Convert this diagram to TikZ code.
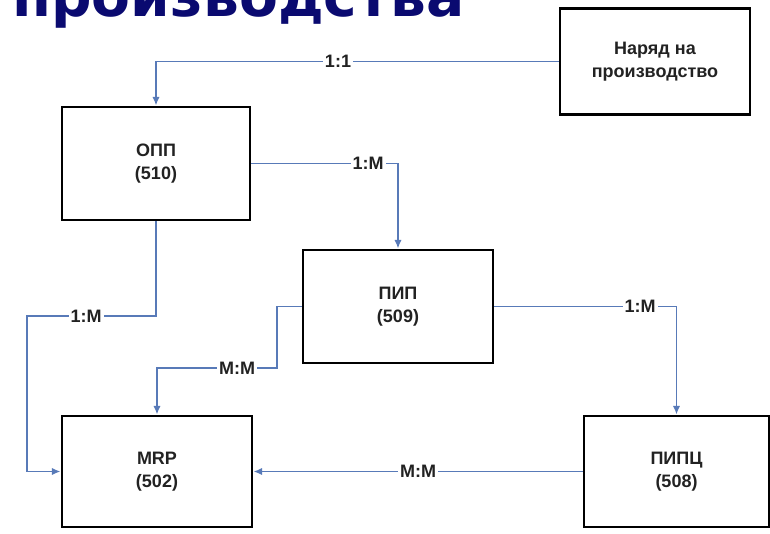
\documentclass[tikz,border=0pt]{standalone}
\usepackage{fontspec}
\setmainfont{Liberation Sans}
\newfontfamily\titlefont{DejaVu Sans}
\usetikzlibrary{arrows.meta}
\definecolor{navy}{RGB}{10,10,112}
\definecolor{connc}{RGB}{88,122,184}
\definecolor{txt}{RGB}{34,34,34}
\tikzset{
  box/.style={draw=black, line width=2.2pt, fill=white, inner sep=0pt, align=center,
    font=\fontsize{13.5}{17}\selectfont\bfseries, text=txt},
  conn/.style={draw=connc, line width=1.2pt, -{Latex[length=6.5pt,width=5.5pt]}},
  lbl/.style={fill=white, inner xsep=1.5pt, inner ysep=1pt, text=txt,
    font=\fontsize{13.5}{16}\selectfont\bfseries}
}
\begin{document}
\begin{tikzpicture}[x=0.75pt, y=-0.75pt]
\useasboundingbox (0,0) rectangle (770,534);
\clip (0,0) rectangle (770,534);
% title (cut off at top)
\node[anchor=base west, inner sep=0pt, text=navy] (title) at (12,17)
  {\resizebox{339pt}{!}{\titlefont\bfseries производства}};
% boxes
\node[box, minimum width=142.5pt, minimum height=80pt] (nar) at (655,61.5) {Наряд на\\производство};
\node[box, minimum width=141pt, minimum height=84.75pt] (opp) at (156,163.5) {ОПП\\(510)};
\node[box, minimum width=142.5pt, minimum height=84.75pt] (pip) at (398,306.5) {ПИП\\(509)};
\node[box, minimum width=142.5pt, minimum height=83.25pt] (mrp) at (157,471.5) {MRP\\(502)};
\node[box, minimum width=138.75pt, minimum height=83.25pt] (pipc) at (676.5,471.5) {ПИПЦ\\(508)};
% connector corners
\coordinate (c3) at (27,316);
\coordinate (c4) at (277,368);
% connectors
\draw[conn] (nar.west) -| (opp.north);
\draw[conn] (opp.east) -| (pip.north);
\draw[conn] (opp.south) |- (c3) |- (mrp.west);
\draw[conn] (pip.west) -| (c4) -| (mrp.north);
\draw[conn] (pip.east) -| (pipc.north);
\draw[conn] (pipc.west) -- (mrp.east);
% labels
\node[lbl] (l1) at (338,61.5) {1:1};
\node[lbl] (l2) at (368,163.5) {1:M};
\node[lbl] (l3) at (86,316) {1:M};
\node[lbl] (l4) at (237,368) {M:M};
\node[lbl] (l5) at (640,306.5) {1:M};
\node[lbl] (l6) at (418,471.5) {M:M};
\end{tikzpicture}
\end{document}
